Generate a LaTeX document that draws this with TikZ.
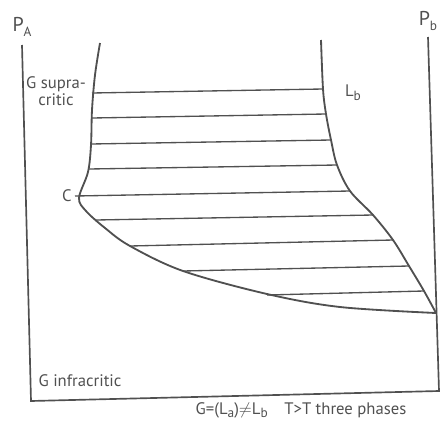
\documentclass[tikz,border=0pt]{standalone}
\usepackage{fontspec}
\setmainfont{PT Sans}
\usetikzlibrary{calc}
\definecolor{ink}{RGB}{80,80,80}
\newcommand{\lowsub}[1]{\raisebox{-0.45ex}{\footnotesize #1}}
\tikzset{
  axis/.style={ink,line width=1.0pt},
  curve/.style={ink,line width=1.1pt},
  tie/.style={ink,line width=0.8pt},
  lab/.style={text=ink,font=\normalsize,inner sep=0pt}
}

\begin{document}
\begin{tikzpicture}[x=0.6pt,y=-0.6pt]
    \useasboundingbox (0,0) rectangle (442,425);
    % frame: p_A axis, bottom, p_b axis
    \coordinate (PA) at (22,45);
    \coordinate (O) at (31,401);
    \coordinate (E) at (439,391);
    \coordinate (PB) at (428,37);
    \draw[axis] (PA) -- (O) -- (E) -- (PB);

    % critical point and three-phase point
    \coordinate (C) at (79,198);
    \coordinate (K) at (436,313);

    % G curve through C and L_b curve
    \draw[curve] plot[smooth,tension=0.55] coordinates {(100,43) (95,75) (92,110) (91,145) (88,172) (C) (86,211) (105,228) (130,246) (183,271) (267,294) (340,307) (K)};
    \draw[curve] plot[smooth,tension=0.55] coordinates {(321,40) (323,89) (326,114) (331,140) (337,165) (350,191) (373,215) (393,240) (409,266) (424,291) (K)};

    % tie lines
    \foreach \i/\xl/\yl/\xr/\yr in {1/92/93/323/89, 2/92/118/326/114, 3/91/144/331/140, 4/89/169/337/165, 5/75/196/350/191, 6/96/220/373/215, 7/130/246/393/240, 8/183/271/409/266, 9/267/295/424/291} {
        \coordinate (l\i) at (\xl,\yl);
        \coordinate (r\i) at (\xr,\yr);
        \draw[tie] (l\i) -- (r\i);
    }

    \node[lab,font=\large] (pa) at (22,27) {P\lowsub{A}};
    \node[lab,font=\large] (pb) at (428,21) {P\lowsub{b}};
    \node[lab,align=center,font=\normalsize\linespread{0.75}\selectfont] (gsup) at (56,91) {G supra-\\critic};
    \node[lab,anchor=east] (c) at (72,196) {C};
    \node[lab] (lb) at (353,93) {L\lowsub{b}};
    \node[lab] (ginf) at (80,381) {G infracritic};
    \node[lab] (three) at (301,410) {G=(L\lowsub{a})$\neq$L\lowsub{b}\quad T>T three phases};
\end{tikzpicture}
\end{document}
